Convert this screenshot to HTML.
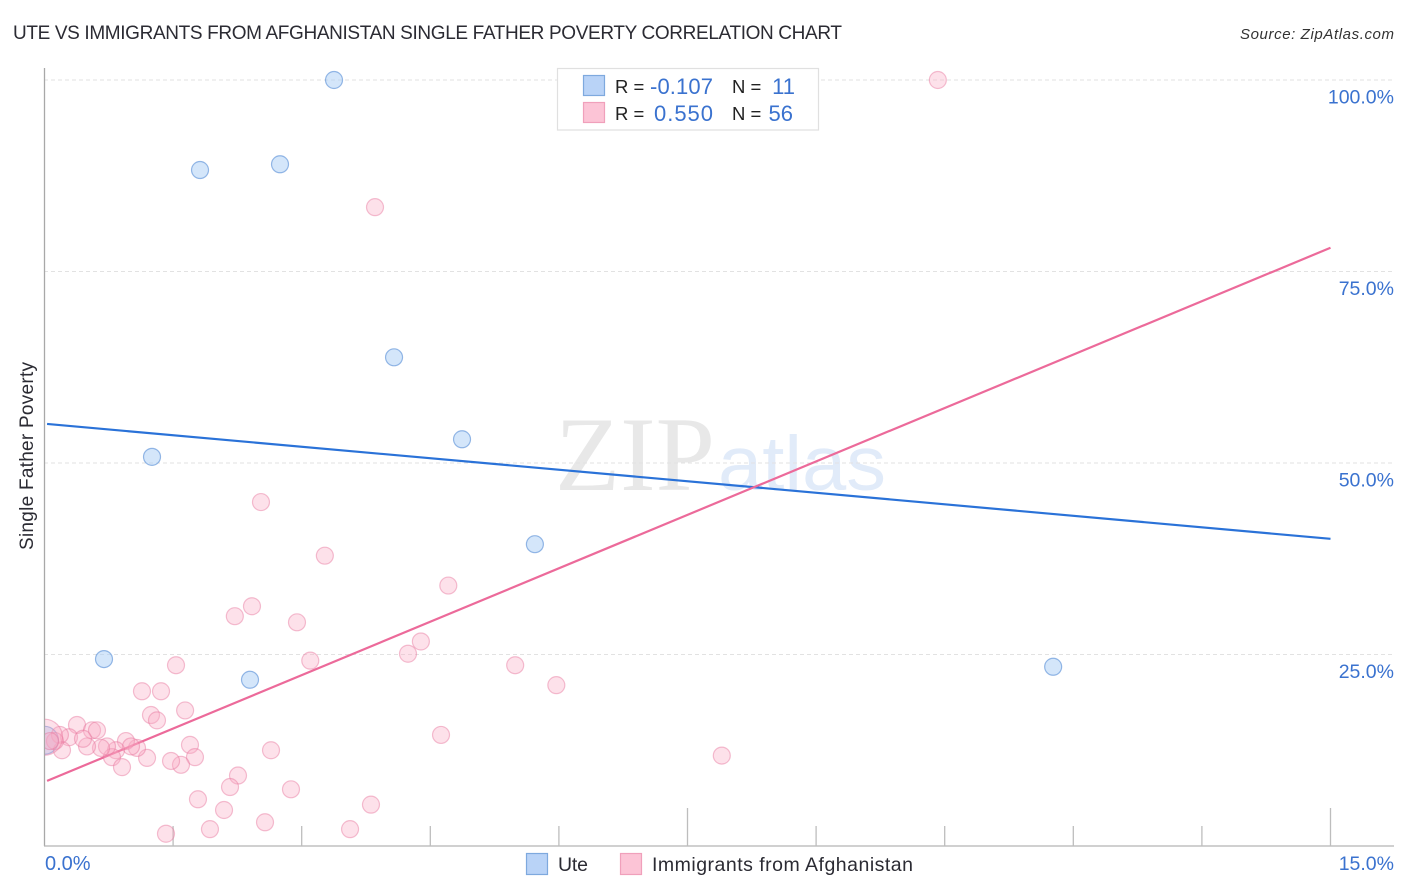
<!DOCTYPE html>
<html lang="en">
<head>
<meta charset="utf-8">
<title>Ute vs Immigrants from Afghanistan Single Father Poverty Correlation Chart</title>
<style>
html,body{margin:0;padding:0;background:#fff;width:1406px;height:892px;overflow:hidden}
svg{display:block}
text{font-family:"Liberation Sans",sans-serif}
</style>
</head>
<body>
<svg id="chart" width="1406" height="892" viewBox="0 0 1406 892" xmlns="http://www.w3.org/2000/svg">
  <defs>
    <clipPath id="plot-clip"><rect x="45" y="60" width="1349" height="786"/></clipPath>
  </defs>
  <rect width="1406" height="892" fill="#fff"/>
  <text x="13" y="39" font-size="19" fill="#2b2b33" textLength="829" lengthAdjust="spacing">UTE VS IMMIGRANTS FROM AFGHANISTAN SINGLE FATHER POVERTY CORRELATION CHART</text>
  <text x="1394" y="39" font-size="15" font-style="italic" fill="#333" text-anchor="end" textLength="154" lengthAdjust="spacing">Source: ZipAtlas.com</text>

  <g>
    <text x="555" y="490" font-size="106" fill="#e8e8e8" textLength="160" lengthAdjust="spacingAndGlyphs" style="font-family:'Liberation Serif',serif">ZIP</text>
    <text x="718" y="490" font-size="77" fill="#e1ebf9" textLength="168" lengthAdjust="spacingAndGlyphs" style="font-family:'Liberation Sans',sans-serif">atlas</text>
  </g>

  <g id="grid"></g>
  <g id="axes"></g>
  <g id="trends"></g>
  <g id="points" clip-path="url(#plot-clip)"></g>
  <g id="labels"></g>

  <text transform="translate(33,456) rotate(-90)" font-size="19" fill="#2b2b33" text-anchor="middle" textLength="188" lengthAdjust="spacing">Single Father Poverty</text>

  <g>
    <rect x="557.5" y="68.5" width="261" height="61.5" fill="#fff" stroke="#e0e0e0" stroke-width="1.2"/>
    <rect x="583.5" y="75.5" width="21" height="20" fill="#b9d3f7" stroke="#7ea9de" stroke-width="1.2"/>
    <rect x="583.5" y="102.5" width="21" height="20" fill="#fcc4d6" stroke="#f0a0bb" stroke-width="1.2"/>
    <text x="615" y="93" font-size="18.5" fill="#222">R =</text>
    <text x="713" y="94" font-size="22" fill="#3a72cf" text-anchor="end" textLength="63" lengthAdjust="spacing">-0.107</text>
    <text x="732" y="93" font-size="18.5" fill="#222">N =</text>
    <text x="795" y="94" font-size="22" fill="#3a72cf" text-anchor="end">11</text>
    <text x="615" y="120" font-size="18.5" fill="#222">R =</text>
    <text x="713" y="121" font-size="22" fill="#3a72cf" text-anchor="end" textLength="59" lengthAdjust="spacing">0.550</text>
    <text x="732" y="120" font-size="18.5" fill="#222">N =</text>
    <text x="793" y="121" font-size="22" fill="#3a72cf" text-anchor="end">56</text>
  </g>

  <g>
    <rect x="526.5" y="853.5" width="21" height="21" fill="#b9d3f7" stroke="#7ea9de" stroke-width="1.2"/>
    <text x="558" y="871" font-size="19.5" fill="#2b2b33" textLength="30" lengthAdjust="spacing">Ute</text>
    <rect x="620.5" y="853.5" width="21" height="21" fill="#fcc4d6" stroke="#f0a0bb" stroke-width="1.2"/>
    <text x="652" y="871" font-size="19.5" fill="#2b2b33" textLength="261" lengthAdjust="spacing">Immigrants from Afghanistan</text>
  </g>
</svg>
<script>
const xDomain = [0, 15];
const yDomain = [0, 100];
const yTickValues = [25, 50, 75, 100];
const yTickLabels = ["25.0%", "50.0%", "75.0%", "100.0%"];
const xTickValues = [1.5, 3, 4.5, 6, 7.5, 9, 10.5, 12, 13.5, 15];
const xMajorTicks = [7.5, 15];
const xEndLabels = ["0.0%", "15.0%"];

const uteX = [3.377, 1.814, 2.747, 4.077, 4.87, 1.254, 5.72, 0.694, 2.397, 11.765, 0.0];
const uteY = [100, 88.25, 89.0, 63.8, 53.1, 50.8, 39.4, 24.4, 21.7, 23.4, 13.8];
const uteWeight = [1, 1, 1, 1, 1, 1, 1, 1, 1, 1, 2.7];

const afgX = [10.42, 3.855, 2.525, 3.27, 4.71, 2.42, 2.22, 2.945, 4.39, 4.24, 3.10, 1.534, 5.49, 5.97, 1.137, 1.359, 1.64, 1.242, 1.312, 4.625, 0.379, 0.554, 0.612, 0.286, 0.18, 7.90, 2.642, 1.697, 1.755, 1.592, 1.476, 1.196, 1.079, 0.95, 1.009, 0.834, 0.787, 0.904, 0.729, 0.659, 0.496, 0.449, 0.204, 0.122, 0.0, 0.064, 2.257, 2.164, 2.875, 1.79, 2.094, 3.808, 2.572, 3.564, 1.93, 1.417];
const afgY = [100, 83.4, 44.9, 37.9, 34.0, 31.3, 30.0, 29.2, 26.7, 25.1, 24.2, 23.6, 23.6, 21.0, 20.2, 20.2, 17.7, 17.1, 16.4, 14.5, 15.8, 15.1, 15.1, 14.2, 14.5, 11.8, 12.5, 13.2, 11.6, 10.6, 11.1, 11.5, 12.8, 13.7, 13.0, 12.5, 11.6, 10.3, 13.0, 12.8, 13.0, 14.0, 12.5, 13.7, 14.2, 13.7, 9.2, 7.7, 7.4, 6.1, 4.7, 5.4, 3.1, 2.2, 2.2, 1.6];
const afgWeight = [1, 1, 1, 1, 1, 1, 1, 1, 1, 1, 1, 1, 1, 1, 1, 1, 1, 1, 1, 1, 1, 1, 1, 1, 1, 1, 1, 1, 1, 1, 1, 1, 1, 1, 1, 1, 1, 1, 1, 1, 1, 1, 1, 1, 4.5, 1, 1, 1, 1, 1, 1, 1, 1, 1, 1, 1];

const uteTrendX = [0.03, 15];
const uteTrendY = [55.1, 40.1];
const afgTrendX = [0.03, 15];
const afgTrendY = [8.5, 78.1];

const NS = "http://www.w3.org/2000/svg";
function xScale(v) { return 44.5 + (v - xDomain[0]) / (xDomain[1] - xDomain[0]) * 1286; }
function yScale(v) { return 846 - (v - yDomain[0]) / (yDomain[1] - yDomain[0]) * 766; }
function make(tag, attrs, parent) {
  const el = document.createElementNS(NS, tag);
  for (const k in attrs) el.setAttribute(k, attrs[k]);
  parent.appendChild(el);
  return el;
}
const gridG = document.getElementById("grid");
const axesG = document.getElementById("axes");
const trendsG = document.getElementById("trends");
const pointsG = document.getElementById("points");
const labelsG = document.getElementById("labels");

yTickValues.forEach(function (v, i) {
  const line = make("line", {x1: 44, x2: 1394, y1: yScale(v), y2: yScale(v), stroke: "#e2e2e2", "stroke-width": 1, "stroke-dasharray": "4 3"}, gridG);
  
  
  const label = make("text", {x: 1394, y: yScale(v) + 23.5, "font-size": 19.5, fill: "#3a72cf", "text-anchor": "end"}, labelsG);
  label.textContent = yTickLabels[i];
  
  
});

const yAxis = make("line", {x1: 44.5, x2: 44.5, y1: 68, y2: 846, stroke: "#a8a8a8", "stroke-width": 1.3}, axesG);


const xAxis = make("line", {x1: 44, x2: 1394, y1: 846, y2: 846, stroke: "#b4b4b4", "stroke-width": 1.3}, axesG);



xTickValues.forEach(function (v) {
  const top = xMajorTicks.includes(v) ? 808 : 826;
  const tick = make("line", {x1: xScale(v), x2: xScale(v), y1: top, y2: 846, stroke: "#bdbdbd", "stroke-width": 1.3}, axesG);
  
  
});

const xStartLabel = make("text", {x: 45, y: 870, "font-size": 20, fill: "#3a72cf"}, labelsG);
xStartLabel.textContent = xEndLabels[0];


const xEndLabel = make("text", {x: 1394, y: 870, "font-size": 19.5, fill: "#3a72cf", "text-anchor": "end"}, labelsG);
xEndLabel.textContent = xEndLabels[1];



uteX.forEach(function (v, i) {
  const c = make("circle", {cx: xScale(v), cy: yScale(uteY[i]), r: 8.5 * Math.sqrt(uteWeight[i]), fill: "rgba(170,205,245,0.5)", stroke: "rgba(70,130,210,0.55)", "stroke-width": 1.2}, pointsG);
  
  
});
afgX.forEach(function (v, i) {
  const c = make("circle", {cx: xScale(v), cy: yScale(afgY[i]), r: 8.5 * Math.sqrt(afgWeight[i]), fill: "rgba(248,170,195,0.35)", stroke: "rgba(230,115,155,0.45)", "stroke-width": 1.2}, pointsG);
  
  
});

const uteTrend = make("line", {x1: xScale(uteTrendX[0]), y1: yScale(uteTrendY[0]), x2: xScale(uteTrendX[1]), y2: yScale(uteTrendY[1]), stroke: "#2a72d8", "stroke-width": 2.2}, trendsG);


const afgTrend = make("line", {x1: xScale(afgTrendX[0]), y1: yScale(afgTrendY[0]), x2: xScale(afgTrendX[1]), y2: yScale(afgTrendY[1]), stroke: "#ec6a9a", "stroke-width": 2.2}, trendsG);


</script>
</body>
</html>
